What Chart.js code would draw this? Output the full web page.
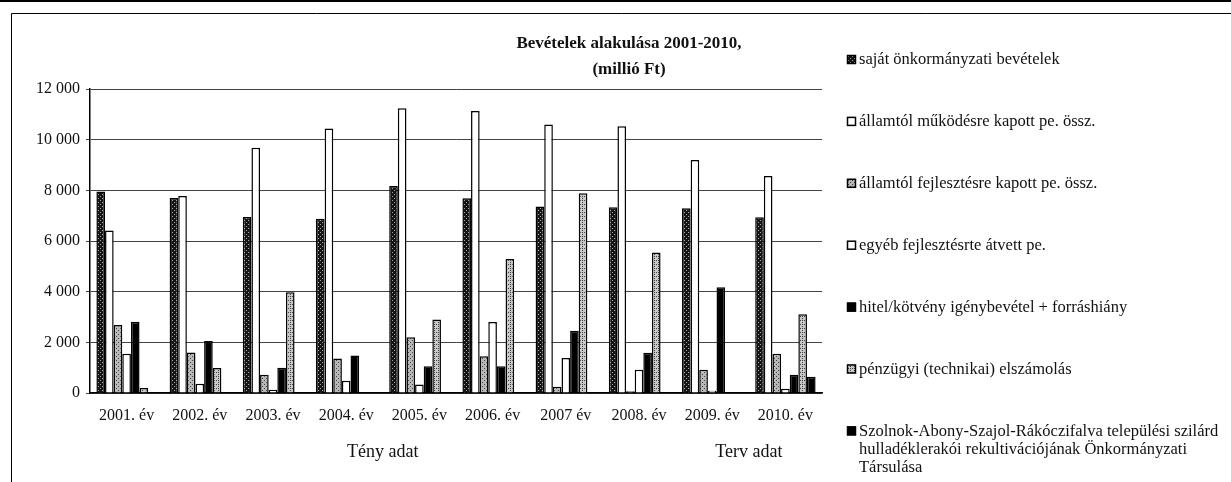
<!DOCTYPE html>
<html><head><meta charset="utf-8">
<script src="https://cdn.jsdelivr.net/npm/chart.js@4/dist/chart.umd.min.js"></script>
<style>html,body{margin:0;padding:0;background:#fff;}canvas{display:block;}</style>
</head><body>
<canvas id="c" width="1231" height="482"></canvas>
<script>
const categories = ['2001. év','2002. év','2003. év','2004. év','2005. év','2006. év','2007 év','2008. év','2009. év','2010. év'];
const seriesNames = [
  'saját önkormányzati bevételek',
  'államtól működésre kapott pe. össz.',
  'államtól fejlesztésre kapott pe. össz.',
  'egyéb fejlesztésrte átvett pe.',
  'hitel/kötvény igénybevétel + forráshiány',
  'pénzügyi (technikai) elszámolás',
  'Szolnok-Abony-Szajol-Rákóczifalva települési szilárd\nhulladéklerakói rekultivációjának Önkormányzati\nTársulása'
];
const sajat      = [7950, 7700, 6950, 6880, 8170, 7690, 7360, 7330, 7290, 6940];
const mukodes    = [6410, 7780, 9680, 10440, 11240, 11130, 10600, 10530, 9200, 8570];
const fejlesztes = [2680, 1600, 720, 1365, 2200, 1450, 250, 70, 920, 1550];
const egyeb      = [1550, 370, 130, 485, 335, 2805, 1385, 920, 90, 170];
const hitel      = [2810, 2050, 1000, 1480, 1055, 1055, 2460, 1585, 4170, 720];
const penzugyi   = [200, 985, 3980, 0, 2900, 5290, 7880, 5550, 0, 3110];
const tarsulas   = [0, 0, 0, 0, 0, 0, 0, 0, 0, 640];
const yTicks = [0, 2000, 4000, 6000, 8000, 10000, 12000];
const titleLines = ['Bevételek alakulása 2001-2010,', '(millió Ft)'];
const groupLabels = ['Tény adat', 'Terv adat'];
const groupFrom = [0, 8];
const groupTo = [7, 9];

const SERIF = '"Liberation Serif","DejaVu Serif",serif';

function makePattern(bg, dot, step, mode) {
  const c = document.createElement('canvas');
  c.width = step * 2; c.height = step * 2;
  const g = c.getContext('2d');
  g.fillStyle = bg; g.fillRect(0, 0, c.width, c.height);
  g.fillStyle = dot;
  g.fillRect(0, 0, 1, 1); g.fillRect(step, step, 1, 1);
  if (mode === 'check') g.fillRect(step, 0, 1, 1);
  return g.createPattern(c, 'repeat');
}
const ctx0 = document.getElementById('c').getContext('2d');
const darkPat = makePattern('#151515', '#aaaaaa', 2, 'dot');
const grayPat = makePattern('#b8b8b8', '#444444', 2, 'dot');
const gray2Pat = makePattern('#c8c8c8', '#404040', 2, 'check');

const fills = [darkPat, '#ffffff', grayPat, '#ffffff', '#000000', gray2Pat, '#000000'];
const seriesData = [sajat, mukodes, fejlesztes, egyeb, hitel, penzugyi, tarsulas];

const fmt = v => String(v).replace(/\B(?=(\d{3})+(?!\d))/g, ' ');

const decor = {
  id: 'decor',
  beforeDraw(chart) {
    const c = chart.ctx;
    c.save();
    c.fillStyle = '#fff'; c.fillRect(0, 0, chart.width, chart.height);
    c.strokeStyle = '#000'; c.lineWidth = 1;
    c.beginPath();
    c.moveTo(11.5, 482); c.lineTo(11.5, 13.5); c.lineTo(1231, 13.5);
    c.stroke();
    c.lineWidth = 2;
    c.beginPath(); c.moveTo(0, 1); c.lineTo(1231, 1); c.stroke();
    c.restore();
  },
  afterDraw(chart) {
    const c = chart.ctx;
    c.save();
    c.fillStyle = '#111';
    c.textAlign = 'center'; c.textBaseline = 'middle';
    c.font = 'bold 17px ' + SERIF;
    c.fillText(titleLines[0], 629, 44);
    c.fillText(titleLines[1], 629, 70);
    const xs = chart.scales.x;
    c.font = '18px ' + SERIF;
    for (let i = 0; i < groupLabels.length; i++) {
      const x = (xs.getPixelForValue(groupFrom[i]) + xs.getPixelForValue(groupTo[i])) / 2;
      c.fillText(groupLabels[i], x, 452);
    }
    // legend
    c.textAlign = 'left';
    c.font = '16.5px ' + SERIF;
    chart.data.datasets.forEach((ds, i) => {
      const y = 60 + i * 61.9;
      c.fillStyle = ds.backgroundColor;
      c.fillRect(847, y - 5, 9, 9);
      c.strokeStyle = '#000'; c.lineWidth = 1.5;
      c.strokeRect(847.5, y - 4.5, 8, 8);
      c.fillStyle = '#111';
      ds.label.split('\n').forEach((ln, k) => c.fillText(ln, 859, y + k * 18));
    });
    c.restore();
  }
};

new Chart(ctx0, {
  type: 'bar',
  data: {
    labels: categories,
    datasets: seriesData.map((d, i) => ({
      label: seriesNames[i],
      data: d,
      backgroundColor: fills[i],
      borderColor: '#000',
      borderWidth: 1.5,
      categoryPercentage: 0.825,
      barPercentage: 1.0
    }))
  },
  options: {
    responsive: false,
    animation: false,
    layout: { padding: { left: 0, top: 89, right: 409, bottom: 0 } },
    plugins: { legend: { display: false }, tooltip: { enabled: false }, title: { display: false } },
    scales: {
      x: {
        grid: { display: false },
        border: { display: true, color: '#000', width: 1.5 },
        ticks: { font: { family: SERIF, size: 16 }, color: '#111', padding: 5, maxRotation: 0, autoSkip: false },
        afterFit: s => { s.height = 89; }
      },
      y: {
        min: 0, max: 12000,
        afterBuildTicks: s => { s.ticks = yTicks.map(v => ({ value: v })); },
        ticks: { font: { family: SERIF, size: 16 }, color: '#111', padding: 6, callback: v => fmt(v) },
        grid: { color: '#444', lineWidth: 1, tickLength: 4, drawTicks: true },
        border: { display: true, color: '#000', width: 1.5 },
        afterFit: s => { s.width = 90; }
      }
    }
  },
  plugins: [decor]
});
</script>
</body></html>
